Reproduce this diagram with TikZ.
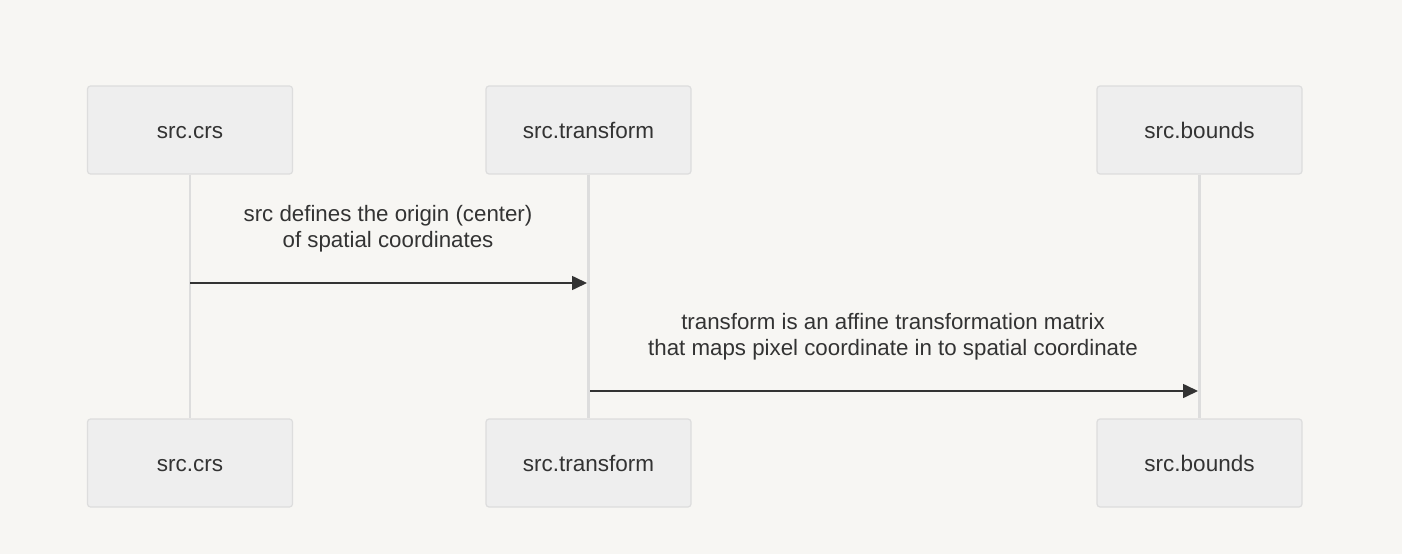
\documentclass[tikz,border=0pt]{standalone}
\usepackage{fontspec}
\setmainfont{Liberation Sans}
\usetikzlibrary{arrows.meta}
\definecolor{bg}{HTML}{F7F6F3}
\definecolor{boxfill}{HTML}{EEEEEE}
\definecolor{boxline}{HTML}{DDDDDD}
\definecolor{lifeline}{HTML}{DDDDDD}
\definecolor{ink}{HTML}{333333}
\tikzset{
  actor/.style={draw=boxline, fill=boxfill, line width=1.2bp, rounded corners=3bp,
    minimum width=205bp, minimum height=88bp, text=ink, text height=17bp, text depth=0.5bp,
    font=\fontsize{22.5bp}{26bp}\selectfont},
  life/.style={draw=lifeline, line width=2.8bp},
  msg/.style={draw=ink, line width=1.6bp, -{Triangle[length=15bp,width=14bp]}},
  lbl/.style={text=ink, align=center, font=\fontsize{22.3bp}{26bp}\selectfont}
}
\begin{document}
\begin{tikzpicture}[x=1bp,y=-1bp]
\fill[bg] (0,0) rectangle (1402,554);
\useasboundingbox (0,0) rectangle (1402,554);
\node[actor] (a1) at (190,130) {src.crs};
\node[actor] (b1) at (588.5,130) {src.transform};
\node[actor] (c1) at (1199.5,130) {src.bounds};
\node[actor] (a2) at (190,463) {src.crs};
\node[actor] (b2) at (588.5,463) {src.transform};
\node[actor] (c2) at (1199.5,463) {src.bounds};
\draw[life] (a1.south) -- (a2.north);
\draw[life] (b1.south) -- (b2.north);
\draw[life] (c1.south) -- (c2.north);
\coordinate (m1s) at (190,283);
\coordinate (m1e) at (587,283);
\coordinate (m2s) at (590,391);
\coordinate (m2e) at (1198,391);
\draw[msg] (m1s) -- (m1e);
\draw[msg] (m2s) -- (m2e);
\node[lbl] (l1) at (388,229) {src defines the origin (center)\\of spatial coordinates};
\node[lbl] (l2) at (893,337) {transform is an affine transformation matrix\\that maps pixel coordinate in to spatial coordinate};
\end{tikzpicture}
\end{document}
